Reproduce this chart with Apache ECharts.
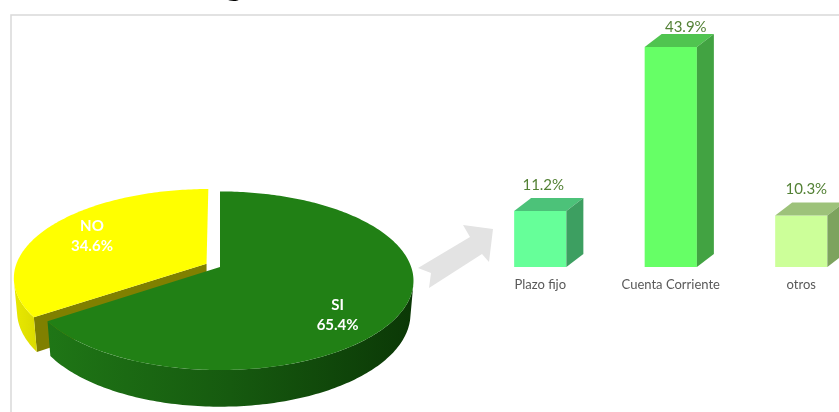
<!DOCTYPE html>
<html>
<head>
<meta charset="utf-8">
<script src="https://cdn.jsdelivr.net/npm/echarts@6/dist/echarts.min.js"></script>
<style>
  html, body { margin: 0; padding: 0; background: #ffffff; }
  #chart { width: 839px; height: 412px; }
</style>
</head>
<body>
<div id="chart"></div>
<script>
// ---- data ----
const titleText = 'Destino del ingreso';
const pieNames = ['SI', 'NO'];
const pieValues = [65.4, 34.6];
const barCategories = ['Plazo fijo', 'Cuenta Corriente', 'otros'];
const barValues = [11.2, 43.9, 10.3];

// ---- styling ----
const pieTopColors = ['#218015', '#ffff00'];
const pieSideColors = ['#17600f', '#808000'];
const pieWallStops = [
  ['#1f7616', '#165a0f', '#0b3806'],
  ['#e8e800', '#e2e200', '#dada00']
];
const pieExplode = [0, 0.08];
const pieLabelShift = [[14, 0.76], [0, 0.72]]; // [angle shift in degrees, radius]
const barFront = ['#66ff99', '#66ff66', '#ccff99'];
const barTop = ['#4cc279', '#50c450', '#9dc27a'];
const barSide = ['#3d9f61', '#42a342', '#7da35e'];
const barLabelShift = [[3, -13], [15, -7], [5, -13]];
const labelGreen = '#538135';

// ---- 3D pie projection (tilted disk seen in perspective) ----
const P = { cx: 220, cy: 267, f: 1105, D: 5.78, sinA: 0.456, cosA: 0.89, H: 0.195 };
function proj(X, Z, Y) {
  const zc = P.D - Z * P.cosA - Y * P.sinA;
  const yc = -Z * P.sinA + Y * P.cosA;
  return [P.cx + P.f * X / zc, P.cy - P.f * yc / zc];
}
const RAD = Math.PI / 180;
const SIL_LO = 101.2, SIL_HI = 258.8; // visible part of the outer wall

function renderPie(params, api) {
  const i = params.dataIndex;
  const total = pieValues.reduce((a, b) => a + b, 0);
  let acc = 0;
  for (let k = 0; k < i; k++) acc += pieValues[k];
  const v = api.value(0);
  const t1 = acc / total * 360;
  const t2 = (acc + v) / total * 360;
  const tm = (t1 + t2) / 2;
  const e = pieExplode[i];
  const ox = e * Math.sin(tm * RAD), oz = -e * Math.cos(tm * RAD);
  const rim = (deg, Y, r) => {
    const a = deg * RAD; r = r == null ? 1 : r;
    return proj(ox + r * Math.sin(a), oz - r * Math.cos(a), Y);
  };
  const apex = Y => proj(ox, oz, Y);
  const zBase = i === 0 ? 10 : 0;
  const children = [];

  // radial faces
  [[t1, -1], [t2, 1]].forEach(([deg, sgn]) => {
    const a = deg * RAD;
    const nx = sgn * Math.cos(a), nz = sgn * Math.sin(a);
    const mx = ox + 0.5 * Math.sin(a), mz = oz - 0.5 * Math.cos(a);
    const dot = nx * (0 - mx) + nz * (P.D * P.cosA - mz);
    if (dot > 0.1) {
      children.push({
        type: 'polygon',
        shape: { points: [apex(0), rim(deg, 0), rim(deg, -P.H), apex(-P.H)] },
        style: { fill: pieSideColors[i] },
        z2: zBase + 1
      });
    }
  });

  // outer wall
  const lo = Math.max(t1, SIL_LO), hi = Math.min(t2, SIL_HI);
  if (hi > lo) {
    const pts = [];
    const n = Math.ceil(hi - lo);
    for (let k = 0; k <= n; k++) pts.push(rim(lo + (hi - lo) * k / n, 0));
    for (let k = n; k >= 0; k--) pts.push(rim(lo + (hi - lo) * k / n, -P.H));
    const xs = pts.map(p => p[0]);
    const stops = pieWallStops[i];
    children.push({
      type: 'polygon',
      shape: { points: pts },
      style: {
        fill: {
          type: 'linear', global: true,
          x: Math.min.apply(null, xs), y: 0, x2: Math.max.apply(null, xs), y2: 0,
          colorStops: [
            { offset: 0, color: stops[0] },
            { offset: 0.5, color: stops[1] },
            { offset: 1, color: stops[2] }
          ]
        }
      },
      z2: zBase + 2
    });
  }

  // top face
  const top = [apex(0)];
  const m = Math.ceil(t2 - t1);
  for (let k = 0; k <= m; k++) top.push(rim(t1 + (t2 - t1) * k / m, 0));
  children.push({
    type: 'polygon',
    shape: { points: top },
    style: { fill: pieTopColors[i] },
    z2: zBase + 3
  });

  // label
  const lp = rim(tm + pieLabelShift[i][0], 0, pieLabelShift[i][1]);
  children.push({
    type: 'text',
    x: lp[0], y: lp[1],
    style: {
      text: pieNames[i] + '\n' + v.toFixed(1) + '%',
      fill: '#ffffff',
      font: 'bold 15px Lato',
      align: 'center',
      verticalAlign: 'middle',
      lineHeight: 20
    },
    z2: 30
  });
  return { type: 'group', children };
}

// ---- 3D bars ----
function renderBar(params, api) {
  const i = params.dataIndex;
  const topPt = api.coord([api.value(0), api.value(1)]);
  const basePt = api.coord([api.value(0), 0]);
  const band = api.size([1, 0])[0];
  const w = band * 0.4;
  const xl = topPt[0] - w / 2, xr = topPt[0] + w / 2;
  const yt = topPt[1], yb = basePt[1];
  const dx = 17, dy = 13;
  return {
    type: 'group',
    children: [
      { type: 'rect', shape: { x: xl, y: yt, width: w, height: yb - yt }, style: { fill: barFront[i] } },
      { type: 'polygon', shape: { points: [[xl, yt], [xr, yt], [xr + dx, yt - dy], [xl + dx, yt - dy]] }, style: { fill: barTop[i] } },
      { type: 'polygon', shape: { points: [[xr, yt], [xr + dx, yt - dy], [xr + dx, yb - dy], [xr, yb]] }, style: { fill: barSide[i] } },
      {
        type: 'text',
        x: topPt[0] + barLabelShift[i][0],
        y: yt - dy + barLabelShift[i][1],
        style: {
          text: api.value(1).toFixed(1) + '%',
          fill: labelGreen,
          font: '15px Lato',
          align: 'center',
          verticalAlign: 'middle'
        }
      }
    ]
  };
}

const chart = echarts.init(document.getElementById('chart'), null, { renderer: 'canvas' });
chart.setOption({
  animation: false,
  backgroundColor: '#ffffff',
  // the third category runs past the right edge, so the x range is set explicitly
  grid: { left: 475, right: 0, top: 16.5, bottom: 145 },
  xAxis: {
    type: 'value',
    min: -0.5,
    max: 2.289,
    splitLine: { show: false },
    axisLine: { show: false },
    axisTick: { show: false },
    axisLabel: {
      customValues: [0, 1, 2],
      formatter: v => barCategories[Math.round(v)] || '',
      color: '#595959', fontFamily: 'Lato', fontSize: 13, margin: 11
    }
  },
  yAxis: { type: 'value', min: 0, max: 50, show: false },
  graphic: [
    {
      type: 'rect', silent: true, z: -10,
      shape: { x: 11, y: 15, width: 1000, height: 1000 },
      style: { fill: 'none', stroke: '#d9d9d9', lineWidth: 1.5 }
    },
    {
      type: 'polygon', silent: true,
      shape: { points: [[418, 268], [431, 273], [429, 288], [482, 254], [489, 262], [493, 229], [463, 225], [470, 237]] },
      style: { fill: '#e3e3e3' }
    },
    {
      type: 'text', silent: true,
      x: -20, y: -19,
      style: { text: titleText, font: '40px Lato', fill: '#000000', verticalAlign: 'middle' }
    }
  ],
  series: [
    {
      type: 'custom',
      coordinateSystem: 'none',
      renderItem: renderPie,
      data: pieValues.map(v => [v])
    },
    {
      type: 'custom',
      coordinateSystem: 'cartesian2d',
      renderItem: renderBar,
      encode: { x: 0, y: 1 },
      data: barValues.map((v, i) => [i, v])
    }
  ]
});
</script>
</body>
</html>
